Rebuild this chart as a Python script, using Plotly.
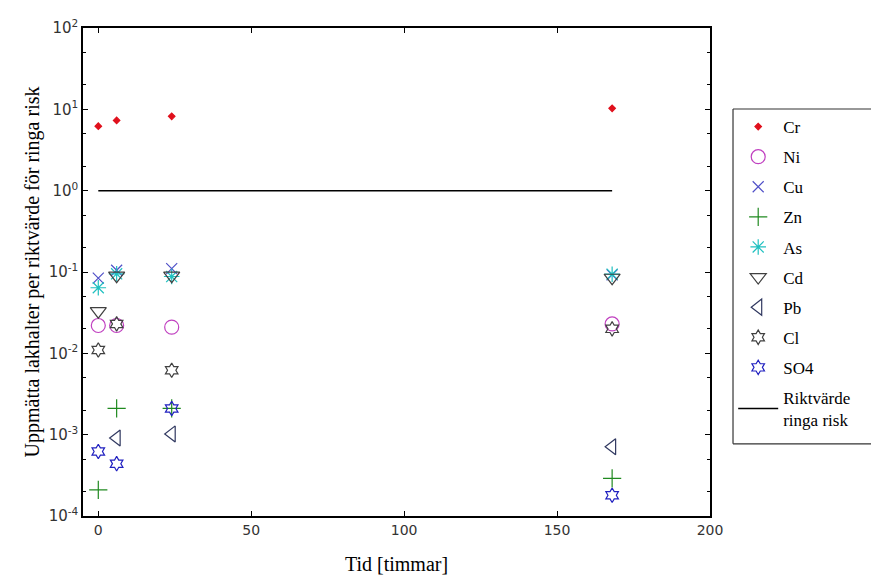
import plotly.graph_objects as go

# ---- data ----
time_h = [0, 6, 24, 168]
cr = [6.2, 7.3, 8.2, 10.3]
ni = [0.022, 0.022, 0.021, 0.023]
cu = [0.084, 0.105, 0.11, 0.092]
zn = [0.00021, 0.0021, 0.0021, 0.00029]
as_ = [0.064, 0.095, 0.088, 0.094]
cd = [0.033, 0.09, 0.09, 0.085]
pb_t = [6, 24, 168]
pb = [0.00091, 0.00102, 0.00071]
cl = [0.011, 0.023, 0.0062, 0.020]
so4 = [0.00062, 0.00044, 0.0021, 0.00018]
ref_t = [0, 168]
ref_v = [1, 1]
y_tickvals = [1e-4, 1e-3, 1e-2, 1e-1, 1, 10, 100]
y_ticktext = ["10<sup>-4</sup>", "10<sup>-3</sup>", "10<sup>-2</sup>", "10<sup>-1</sup>",
              "10<sup>0</sup>", "10<sup>1</sup>", "10<sup>2</sup>"]
x_tickvals = [0, 50, 100, 150, 200]

series = [
    ("Cr", time_h, cr, "diamond", "#e0101c", 5),
    ("Ni", time_h, ni, "circle-open", "#c040c0", 14),
    ("Cu", time_h, cu, "x-thin-open", "#5050c8", 11),
    ("Zn", time_h, zn, "cross-thin-open", "#208a20", 13),
    ("As", time_h, as_, "asterisk-open", "#20c0c0", 13),
    ("Cd", time_h, cd, "triangle-down-open", "#404040", 14),
    ("Pb", pb_t, pb, "triangle-left-open", "#303860", 14),
    ("Cl", time_h, cl, "hexagram-open", "#404040", 11),
    ("SO4", time_h, so4, "hexagram-open", "#2020c0", 11),
]

SERIF = "Liberation Serif, Times New Roman, serif"

fig = go.Figure()
for i, (name, xs, ys, sym, col, sz) in enumerate(series):
    fig.add_trace(go.Scatter(
        x=xs, y=ys, mode="markers", name=name, legendgroup=f"g{i}",
        marker=dict(symbol=sym, size=sz, color=col,
                    line=dict(color=col, width=1.2)),
    ))
fig.add_trace(go.Scatter(
    x=ref_t, y=ref_v, mode="lines", name="Riktvärde<br>ringa risk",
    legendgroup="gref", line=dict(color="black", width=1.5),
))

axis_common = dict(
    showline=True, linecolor="black", linewidth=1.5, mirror="ticks",
    ticks="inside", ticklen=5, tickcolor="black", showgrid=False, zeroline=False,
    automargin=False,
)
fig.update_xaxes(
    range=[-5, 200], tickvals=x_tickvals,
    tickfont=dict(family="DejaVu Sans", size=14, color="#333333"),
    **axis_common,
)
fig.update_yaxes(
    type="log", range=[-4, 2], tickvals=y_tickvals, ticktext=y_ticktext,
    tickfont=dict(family="DejaVu Sans", size=15, color="#333333"),
    minor=dict(ticks="inside", ticklen=3, tickcolor="black", showgrid=False),
    **axis_common,
)
fig.update_layout(
    xaxis_title=dict(text="Tid [timmar]", font=dict(family=SERIF, size=20, color="black"), standoff=20),
    yaxis_title=dict(text="Uppmätta lakhalter per riktvärde för ringa risk",
                     font=dict(family=SERIF, size=20, color="black"), standoff=4),
    width=871, height=580,
    margin=dict(l=83, r=161, t=28, b=64),
    paper_bgcolor="white", plot_bgcolor="white",
    showlegend=True,
    legend=dict(
        x=1.037, y=0.834, xanchor="left", yanchor="top",
        borderwidth=0, bgcolor="rgba(0,0,0,0)",
        font=dict(family=SERIF, size=17, color="black"),
        tracegroupgap=5, itemwidth=40,
    ),
)
# legend frame (extends past the right edge as in the reference)
frame = dict(type="line", xref="paper", yref="paper", line=dict(color="#333333", width=1.2))
fig.add_shape(x0=1.0367, x1=1.30, y0=0.834, y1=0.834, **frame)
fig.add_shape(x0=1.0367, x1=1.30, y0=0.148, y1=0.148, **frame)
fig.add_shape(x0=1.0367, x1=1.0367, y0=0.148, y1=0.834, **frame)
fig.write_html("out.html")
